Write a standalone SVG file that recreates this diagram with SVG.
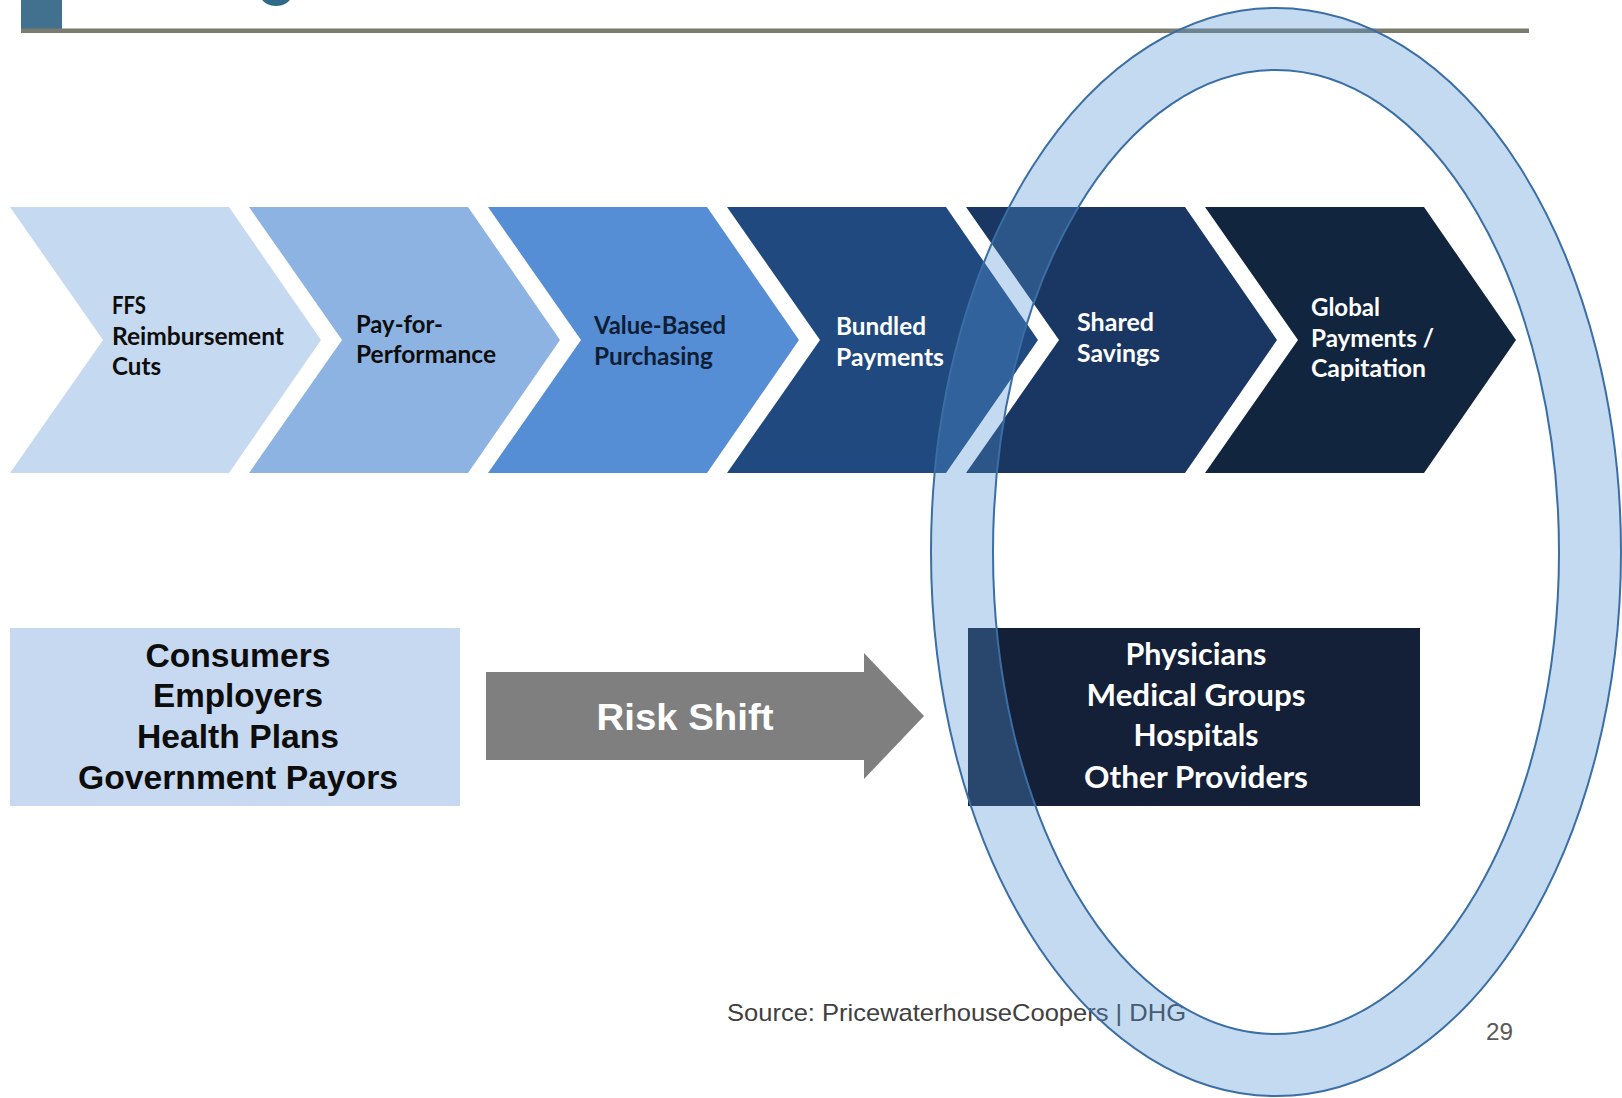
<svg xmlns="http://www.w3.org/2000/svg" width="1622" height="1098" viewBox="0 0 1622 1098">
<style>
.cv{font-family:Lato,"Open Sans","DejaVu Sans",sans-serif;font-weight:700;font-size:24px}
.dk{fill:#0d0d0d}
.nv{fill:#0f1d35}
.wt{fill:#ffffff}
.bx{font-family:"Liberation Sans",Arial,sans-serif;font-weight:700;font-size:33px;fill:#0d0d0d;text-anchor:middle}
.bw{font-family:Lato,"Open Sans",sans-serif;font-weight:700;font-size:30px;fill:#ffffff;text-anchor:middle}
.ft{font-family:"Liberation Sans",Arial,sans-serif;font-size:24px}
</style>
<rect width="1622" height="1098" fill="#ffffff"/>
<g id="header">
<ellipse cx="276" cy="-4" rx="15" ry="10" fill="#2f6a88"/>
<rect x="21" y="0" width="41" height="33" fill="#41718f"/>
<rect x="21" y="28.5" width="1508" height="4.5" fill="#7b7b6e"/>
</g>
<g id="chevron1">
<polygon points="10,207 229,207 321,340 229,473 10,473 103,340" fill="#c5d9f1"/>
<text class="cv dk" x="112" y="314" textLength="34" lengthAdjust="spacingAndGlyphs">FFS</text>
<text class="cv dk" x="112" y="345" textLength="172" lengthAdjust="spacingAndGlyphs">Reimbursement</text>
<text class="cv dk" x="112" y="375" textLength="49" lengthAdjust="spacingAndGlyphs">Cuts</text>
</g>
<g id="chevron2">
<polygon points="249,207 468,207 560,340 468,473 249,473 342,340" fill="#8db3e2"/>
<text class="cv dk" x="356" y="333" textLength="87" lengthAdjust="spacingAndGlyphs">Pay-for-</text>
<text class="cv dk" x="356" y="363" textLength="140" lengthAdjust="spacingAndGlyphs">Performance</text>
</g>
<g id="chevron3">
<polygon points="488,207 707,207 799,340 707,473 488,473 581,340" fill="#558ed5"/>
<text class="cv nv" x="594" y="334" textLength="132" lengthAdjust="spacingAndGlyphs">Value-Based</text>
<text class="cv nv" x="594" y="365" textLength="119" lengthAdjust="spacingAndGlyphs">Purchasing</text>
</g>
<g id="chevron4">
<polygon points="727,207 946,207 1038,340 946,473 727,473 820,340" fill="#204a7f"/>
<text class="cv wt" x="836" y="335" textLength="90" lengthAdjust="spacingAndGlyphs">Bundled</text>
<text class="cv wt" x="836" y="366" textLength="108" lengthAdjust="spacingAndGlyphs">Payments</text>
</g>
<g id="chevron5">
<polygon points="966,207 1185,207 1277,340 1185,473 966,473 1059,340" fill="#193762"/>
<text class="cv wt" x="1077" y="331" textLength="77" lengthAdjust="spacingAndGlyphs">Shared</text>
<text class="cv wt" x="1077" y="362" textLength="83" lengthAdjust="spacingAndGlyphs">Savings</text>
</g>
<g id="chevron6">
<polygon points="1205,207 1424,207 1516,340 1424,473 1205,473 1298,340" fill="#12253f"/>
<text class="cv wt" x="1311" y="316" textLength="69" lengthAdjust="spacingAndGlyphs">Global</text>
<text class="cv wt" x="1311" y="347" textLength="123" lengthAdjust="spacingAndGlyphs">Payments /</text>
<text class="cv wt" x="1311" y="377" textLength="115" lengthAdjust="spacingAndGlyphs">Capitation</text>
</g>
<g id="payors">
<rect x="10" y="628" width="450" height="178" fill="#c6d9f0"/>
<text class="bx" x="238" y="667" textLength="185" lengthAdjust="spacingAndGlyphs">Consumers</text>
<text class="bx" x="238" y="707" textLength="170" lengthAdjust="spacingAndGlyphs">Employers</text>
<text class="bx" x="238" y="748" textLength="202" lengthAdjust="spacingAndGlyphs">Health Plans</text>
<text class="bx" x="238" y="789" textLength="320" lengthAdjust="spacingAndGlyphs">Government Payors</text>
</g>
<g id="providers">
<rect x="968" y="628" width="452" height="178" fill="#141f38"/>
<text class="bw" x="1196" y="665" textLength="141" lengthAdjust="spacingAndGlyphs">Physicians</text>
<text class="bw" x="1196" y="706" textLength="219" lengthAdjust="spacingAndGlyphs">Medical Groups</text>
<text class="bw" x="1196" y="746" textLength="125" lengthAdjust="spacingAndGlyphs">Hospitals</text>
<text class="bw" x="1196" y="788" textLength="224" lengthAdjust="spacingAndGlyphs">Other Providers</text>
</g>
<g id="connectors">
<polygon points="486,672 864,672 864,653 924,716 864,779 864,760 486,760" fill="#7f7f7f"/>
<text x="685" y="730" font-family="Liberation Sans, Arial, sans-serif" font-weight="700" font-size="37" fill="#ffffff" text-anchor="middle" textLength="177" lengthAdjust="spacingAndGlyphs">Risk Shift</text>
</g>
<g id="footer">
<text class="ft" x="727" y="1021" fill="#404040" textLength="459" lengthAdjust="spacingAndGlyphs">Source: PricewaterhouseCoopers | DHG</text>
<text class="ft" x="1486" y="1040" fill="#595959" textLength="27" lengthAdjust="spacingAndGlyphs">29</text>
</g>
<g id="highlight-ring">
<path d="M931,552 A345,544 0 1,0 1621,552 A345,544 0 1,0 931,552 Z M993,552 A283,482 0 1,0 1559,552 A283,482 0 1,0 993,552 Z" fill="#5292d3" fill-opacity="0.34" fill-rule="evenodd" stroke="#3a6ea5" stroke-width="2"/>
</g>
</svg>
